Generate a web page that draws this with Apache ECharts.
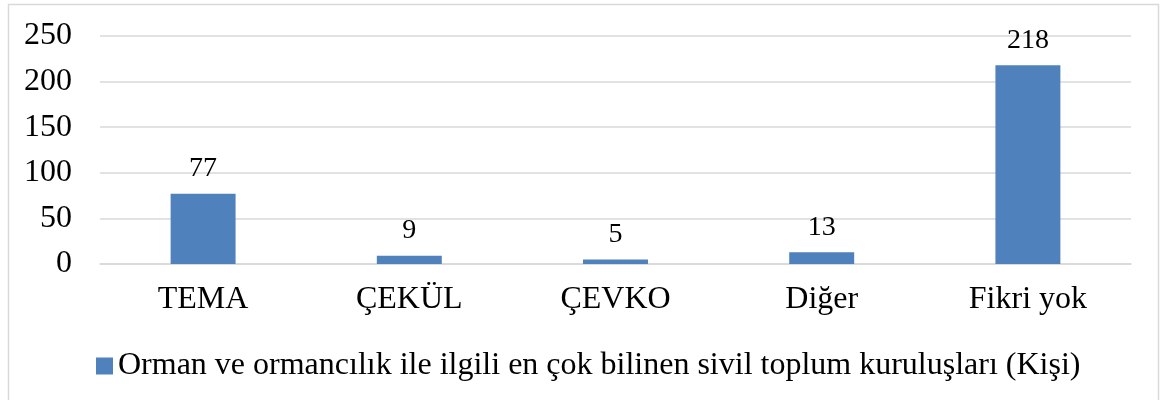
<!DOCTYPE html>
<html>
<head>
<meta charset="utf-8">
<script src="https://cdn.jsdelivr.net/npm/echarts@6/dist/echarts.min.js"></script>
<style>
  html, body { margin: 0; padding: 0; background: #fff; }
  #chart { width: 1161px; height: 400px; }
</style>
</head>
<body>
<div id="chart"></div>
<script>
// kategoriler ve değerler
const categories = ['TEMA', 'ÇEKÜL', 'ÇEVKO', 'Diğer', 'Fikri yok']
const values = [77, 9, 5, 13, 218]
const seriesName = 'Orman ve ormancılık ile ilgili en çok bilinen sivil toplum kuruluşları (Kişi)'

const font = 'Liberation Serif'
const chart = echarts.init(document.getElementById('chart'))

chart.setOption({
  animation: false,
  graphic: [{
    type: 'rect',
    shape: { x: 8.5, y: 4.5, width: 1150, height: 400 },
    style: { fill: 'none', stroke: '#d9d9d9', lineWidth: 1.5 }
  }],
  grid: { left: 100, right: 30, top: 36, bottom: 136 },
  legend: {
    left: 91,
    top: 345,
    itemWidth: 17,
    itemHeight: 17,
    icon: 'rect',
    textStyle: { fontFamily: font, fontSize: 32, color: '#000' },
    data: [seriesName]
  },
  xAxis: {
    type: 'category',
    data: categories,
    axisLine: { lineStyle: { color: '#d9d9d9', width: 1.5 } },
    axisTick: { show: false },
    axisLabel: { fontFamily: font, fontSize: 32, color: '#000', margin: 20 }
  },
  yAxis: {
    type: 'value',
    min: 0,
    max: 250,
    interval: 50,
    axisLine: { show: false },
    axisTick: { show: false },
    splitLine: { lineStyle: { color: '#d9d9d9', width: 1.5 } },
    axisLabel: { fontFamily: font, fontSize: 32, color: '#000', margin: 28 }
  },
  series: [{
    name: seriesName,
    type: 'bar',
    data: values,
    barWidth: '31.5%',
    itemStyle: { color: '#4f81bd' },
    label: {
      show: true,
      position: 'top',
      distance: 11,
      fontFamily: font,
      fontSize: 28,
      color: '#000'
    }
  }]
})
</script>
</body>
</html>
